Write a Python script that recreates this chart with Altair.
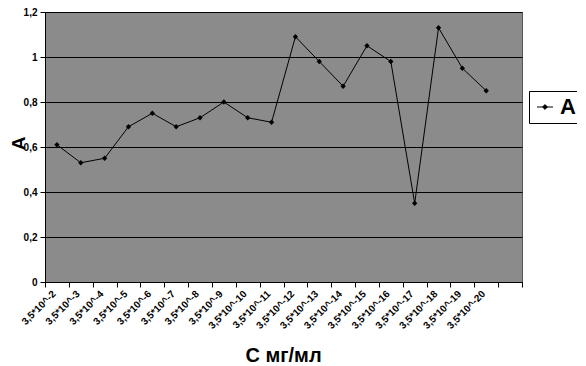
import altair as alt
import pandas as pd

categories = ["3,5*10^-2", "3,5*10^-3", "3,5*10^-4", "3,5*10^-5", "3,5*10^-6",
              "3,5*10^-7", "3,5*10^-8", "3,5*10^-9", "3,5*10^-10", "3,5*10^-11",
              "3,5*10^-12", "3,5*10^-13", "3,5*10^-14", "3,5*10^-15", "3,5*10^-16",
              "3,5*10^-17", "3,5*10^-18", "3,5*10^-19", "3,5*10^-20"]
values = [0.61, 0.53, 0.55, 0.69, 0.75, 0.69, 0.73, 0.80, 0.73, 0.71,
          1.09, 0.98, 0.87, 1.05, 0.98, 0.35, 1.13, 0.95, 0.85]
series_name = "A"
domain = categories + [" "]

df = pd.DataFrame({"C": categories, "A": values, "s": [series_name] * len(values)})

font = "Liberation Sans"

x = alt.X("C:N", sort=None,
          scale=alt.Scale(domain=domain, paddingInner=0, paddingOuter=0),
          axis=alt.Axis(title="С мг/мл", labelAngle=-45, labelAlign="right",
                        labelBaseline="middle", labelFontSize=10, labelFontWeight="bold",
                        labelFont=font, labelPadding=5, labelOffset=-3, labelColor="black",
                        tickBand="extent", tickSize=5, tickColor="black",
                        domainColor="black", grid=False,
                        titleFontSize=20, titleFont=font, titleFontWeight="bold",
                        titleY=79, titleX=238, titleColor="black",
                        titleBaseline="alphabetic"))
y = alt.Y("A:Q",
          scale=alt.Scale(domain=[0, 1.2], nice=False),
          axis=alt.Axis(title="A", values=[0, 0.2, 0.4, 0.6, 0.8, 1.0, 1.2],
                        labelExpr="replace(format(datum.value, '.1~f'), '.', ',')",
                        labelFontSize=10, labelFontWeight="bold", labelFont=font,
                        labelColor="black", labelPadding=3,
                        tickSize=5, tickColor="black", domainColor="black",
                        grid=True, gridColor="black", gridWidth=1, gridOpacity=1,
                        titleFontSize=19, titleFont=font, titleFontWeight="bold",
                        titleColor="black", titleX=-27, titleY=131, titleAngle=-90,
                        titleBaseline="middle", titleAlign="center"))

color = alt.Color("s:N", scale=alt.Scale(range=["black"]),
                  legend=alt.Legend(title=None, orient="none", legendX=484, legendY=79,
                                    strokeColor="black", fillColor="white",
                                    padding=5, labelFontSize=22, labelFont=font,
                                    labelFontWeight="bold", labelColor="black",
                                    symbolType="M-1,0L1,0M0,-0.3L0.3,0L0,0.3L-0.3,0Z",
                                    symbolSize=256, symbolFillColor="black",
                                    symbolStrokeColor="black", symbolStrokeWidth=1,
                                    labelOffset=4))

line = alt.Chart(df).mark_line(color="black", strokeWidth=1).encode(x=x, y=y, color=color)
pts = alt.Chart(df).mark_point(shape="diamond", filled=True, size=28, opacity=1,
                               color="black").encode(x=x, y=y)

chart = (line + pts).properties(width=477, height=270).configure_view(
    fill="#8b8b8b", stroke="#555555", strokeWidth=1
).properties(
    autosize=alt.AutoSizeParams(type="none"),
    padding={"left": 37, "top": 4, "right": 55, "bottom": 82},
    background="white"
)

chart.save("out.html", embed_options={"renderer": "svg", "actions": False})
